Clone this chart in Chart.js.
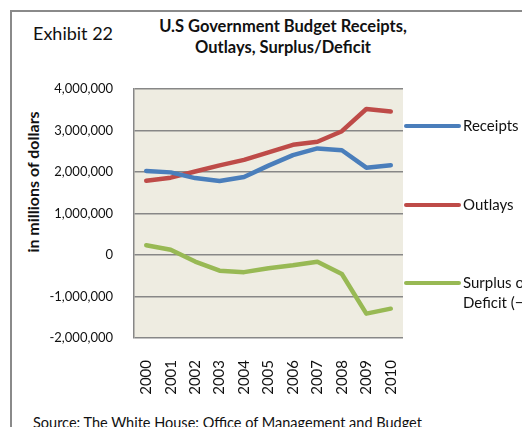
<!DOCTYPE html>
<html>
<head>
<meta charset="utf-8">
<script src="https://cdn.jsdelivr.net/npm/chart.js@4"></script>
<style>
  body { margin: 0; background: #fff; font-family: Lato, "Open Sans", sans-serif; }
  #wrap { position: relative; width: 522px; height: 427px; overflow: hidden; }
  #frame { position: absolute; left: 10px; top: 10px; width: 600px; height: 500px;
           border-left: 2px solid #8a8a8a; border-top: 2px solid #8a8a8a; }
  #exhibit { position: absolute; left: 33px; top: 22px; font-size: 18px; color: #111; }
  #title { position: absolute; left: 130px; top: 16px; width: 306px; text-align: center;
           font-size: 16.5px; font-weight: bold; line-height: 21px; color: #111; }
  #ytitle { position: absolute; left: 32px; top: 182px; font-size: 16px; font-weight: bold;
            transform: translate(-50%, -50%) rotate(-90deg); white-space: nowrap; color: #111; }
  #source { position: absolute; left: 33px; top: 414px; font-size: 14.5px; color: #111; white-space: nowrap; }
  canvas { position: absolute; left: 0; top: 0; }
</style>
</head>
<body>
<div id="wrap">
  <div id="frame"></div>
  <div id="exhibit">Exhibit 22</div>
  <div id="title">U.S Government Budget Receipts,<br>Outlays, Surplus/Deficit</div>
  <div id="ytitle">in millions of dollars</div>
  <div id="source">Source: The White House: Office of Management and Budget</div>
  <canvas id="budgetChart" width="522" height="427"></canvas>
</div>
<script>
var years = ['2000', '2001', '2002', '2003', '2004', '2005', '2006', '2007', '2008', '2009', '2010'];
var receipts = [2025000, 1991000, 1853000, 1782000, 1880000, 2154000, 2407000, 2568000, 2524000, 2105000, 2163000];
var outlays = [1789000, 1863000, 2011000, 2160000, 2293000, 2472000, 2655000, 2729000, 2983000, 3518000, 3456000];
var surplus = [236000, 128000, -158000, -378000, -413000, -318000, -248000, -161000, -459000, -1413000, -1293000];
var legendLabels = [['Receipts'], ['Outlays'], ['Surplus or', 'Deficit (\u2212)']];

var BLUE = '#4a7ebb', RED = '#be4b48', GREEN = '#98b954';

// beige plot background
var plotBg = {
  id: 'plotBg',
  beforeDraw: function (chart) {
    var a = chart.chartArea, c = chart.ctx;
    c.save();
    c.fillStyle = '#eeece1';
    c.fillRect(a.left, a.top, a.right - a.left, a.bottom - a.top);
    c.restore();
  }
};

// legend on the right: line sample + label, spaced down the plot
var sideLegend = {
  id: 'sideLegend',
  afterDraw: function (chart) {
    var c = chart.ctx;
    var rows = [126, 205, 283];
    c.save();
    chart.data.datasets.forEach(function (ds, i) {
      var y = rows[i];
      c.strokeStyle = ds.borderColor;
      c.lineWidth = 4;
      c.lineCap = 'round';
      c.beginPath();
      c.moveTo(406, y);
      c.lineTo(459, y);
      c.stroke();
      c.fillStyle = '#111';
      c.font = '15px Lato, "Open Sans", sans-serif';
      c.textBaseline = 'middle';
      legendLabels[i].forEach(function (t, k) {
        c.fillText(t, 463, y + k * 20);
      });
    });
    c.restore();
  }
};

function line(label, data, color) {
  return {
    label: label,
    data: data,
    borderColor: color,
    backgroundColor: color,
    borderWidth: 4.5,
    borderCapStyle: 'round',
    borderJoinStyle: 'round',
    pointRadius: 0,
    tension: 0,
    fill: false
  };
}

var ctx = document.getElementById('budgetChart').getContext('2d');
var budgetChart = new Chart(ctx, {
  type: 'line',
  data: {
    labels: years,
    datasets: [
      line('Receipts', receipts, BLUE),
      line('Outlays', outlays, RED),
      line('Surplus or Deficit (\u2212)', surplus, GREEN)
    ]
  },
  options: {
    responsive: false,
    animation: false,
    layout: { padding: { top: 89, right: 119, bottom: 0, left: 0 } },
    plugins: { legend: { display: false }, tooltip: { enabled: false } },
    scales: {
      x: {
        offset: true,
        grid: { display: false, drawTicks: false },
        border: { display: false },
        ticks: {
          minRotation: 90, maxRotation: 90, padding: 22,
          color: '#111', font: { family: 'Lato', size: 15 }
        },
        afterFit: function (s) { s.height = 89; }
      },
      y: {
        min: -2000000,
        max: 4000000,
        grid: { color: '#878787', lineWidth: 1.5, drawTicks: false },
        border: { display: true, color: '#878787', width: 1.5 },
        ticks: {
          stepSize: 1000000, padding: 21, color: '#111',
          font: { family: 'Lato', size: 13 },
          callback: function (v) { return v.toLocaleString('en-US'); }
        },
        afterFit: function (s) { s.width = 134; }
      }
    }
  },
  plugins: [plotBg, sideLegend]
});
</script>
</body>
</html>
